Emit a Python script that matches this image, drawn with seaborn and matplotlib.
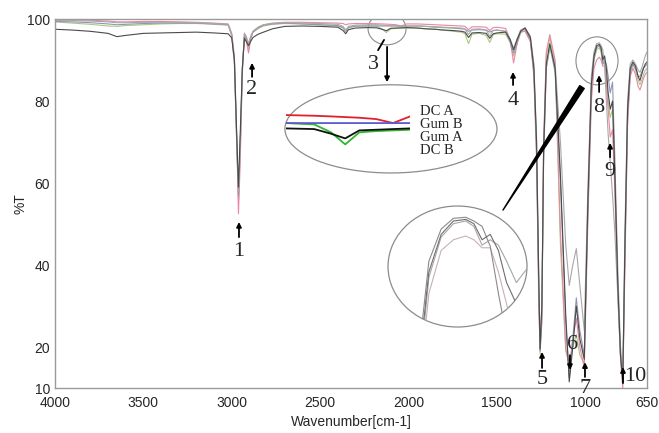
import pandas as pd
import seaborn as sns
import matplotlib.pyplot as plt
from matplotlib.patches import Ellipse

sns.set_style('white')
plt.rcParams['font.family'] = ['Liberation Sans', 'DejaVu Sans']

# FTIR spectra, %T at shared wavenumbers
wavenumber = [4000, 3900, 3800, 3700, 3650, 3600, 3500, 3400, 3300, 3200, 3100, 3020,
              3000, 2985, 2972, 2962, 2952, 2940, 2928, 2918, 2905, 2893, 2880, 2850, 2820, 2770, 2700,
              2600, 2500, 2400, 2370, 2355, 2340, 2300,
              2230, 2180, 2150, 2125, 2100, 2070, 2040, 2010,
              1950, 1900, 1850, 1800, 1750, 1700, 1680, 1660, 1640, 1600, 1560, 1540, 1520, 1500,
              1450, 1425, 1405, 1385, 1365,
              1340, 1310, 1290, 1275, 1262, 1255, 1245, 1235, 1220, 1200,
              1170, 1140, 1110, 1090, 1070, 1050, 1030, 1005,
              985, 965, 950, 935, 920, 910, 900, 890, 880, 870, 858, 845, 832, 815, 800, 787,
              775, 760, 745, 730, 715, 700, 690, 680, 670, 660, 650]

gum_a = [97.5, 97.3, 97.0, 96.5, 95.7, 96.0, 96.5, 96.6, 96.7, 96.8, 96.6, 96.4,
         95.4, 90, 72, 59, 72, 88, 95.3, 94.5, 93.5, 94.5, 95.5, 96.3, 96.8, 97.6, 98.2,
         98.3, 98.2, 98.0, 97.2, 96.4, 97.4, 97.8,
         97.9, 97.85, 97.5, 97.15, 97.75, 97.8, 97.85, 97.9,
         97.8, 97.6, 97.5, 97.3, 97.2, 97.0, 96.8, 95.5, 96.6, 96.7, 96.5, 95.3, 96.4, 96.6,
         96.8, 95.0, 92.5, 95.0, 97.0,
         97.8, 95.5, 88, 70, 35, 19.5, 30, 68, 89, 94,
         88, 62, 28, 11.5, 20, 30, 22, 17,
         55, 84, 91, 93.5, 93.8, 93, 90, 91, 88, 82, 78, 80, 62, 35, 18, 11.5,
         45, 78, 88, 89.5, 88.5, 86, 85, 86.5, 88, 89, 89.5]

gum_b = [99.4, 99.3, 99.1, 98.8, 98.6, 98.7, 98.9, 99.0, 99.0, 99.0, 98.8, 98.6,
         96.0, 90, 70, 57, 70, 88, 96.3, 95.5, 93.5, 95.5, 96.8, 97.8, 98.5, 98.8, 99.0,
         98.8, 98.6, 98.4, 97.8, 97.0, 97.9, 98.3,
         98.3, 98.3, 98.3, 98.3, 98.3, 98.3, 98.3, 98.3,
         98.3, 98.2, 98.0, 97.9, 97.8, 97.6, 97.5, 97.0, 97.3, 97.4, 97.3, 96.8, 97.2, 97.3,
         97.0, 94.5, 91.7, 94.5, 97.2,
         97.6, 95.0, 87, 68, 33, 19.0, 28, 66, 88, 93.5,
         87, 60, 26, 12.5, 22, 32, 24, 18,
         52, 83, 90.5, 93, 93.5, 92.5, 89, 90, 89, 86, 82, 84.6, 66, 38, 20, 12,
         42, 76, 87, 89, 88, 86, 86, 87, 88, 88.5, 89]

dc_a = [99.8, 99.8, 99.7, 99.5, 99.3, 99.3, 99.4, 99.4, 99.3, 99.2, 99.0, 98.8,
        96.5, 91, 72, 52.5, 65, 87, 96.6, 95, 91.7, 95, 97, 98, 98.6, 99, 99.2,
        99.2, 99.1, 99.0, 98.9, 98.6, 98.8, 98.9,
        98.9, 98.85, 98.8, 98.75, 98.7, 98.6, 98.3, 98.8,
        98.8, 98.7, 98.6, 98.5, 98.4, 98.3, 98.2, 97.4, 98.1, 98.1, 98.0, 97.2, 97.9, 98.0,
        97.7, 95.0, 89.3, 94.0, 97.0,
        97.0, 94.5, 86, 66, 30, 19.5, 26, 70, 92, 96.2,
        90, 48, 20, 15, 22, 27, 20, 15,
        50, 80, 88, 90, 90.7, 90, 88.5, 88.5, 84, 78, 71.2, 73, 58, 33, 17, 10,
        40, 74, 86, 88, 86.5, 83.5, 82.7, 84, 85.5, 86.5, 87]

dc_b = [99.3, 99.0, 98.7, 98.3, 98.2, 98.4, 98.6, 98.8, 98.9, 98.9, 98.7, 98.5,
        96, 90, 71, 56, 68, 88, 96.0, 95, 92.5, 95.5, 96.8, 97.7, 98.3, 98.7, 98.9,
        98.8, 98.6, 98.3, 98.0, 97.5, 97.9, 98.2,
        98.3, 98.2, 97.6, 96.7, 97.6, 97.7, 97.75, 97.8,
        97.8, 97.6, 97.5, 97.3, 97.0, 96.8, 96.4, 94.0, 96.3, 96.5, 96.0, 94.3, 96.2, 96.4,
        96.3, 94.3, 91.0, 94.0, 96.6,
        97.2, 94.8, 87, 67, 31, 18.2, 27, 69, 91, 95.5,
        89, 45, 19, 16, 20, 23, 18, 16,
        53, 82, 90, 92.5, 93, 92, 89, 89.5, 86, 80, 76, 78, 60, 34, 18, 11,
        43, 76, 87, 89, 87.5, 85, 84, 85, 86.5, 87.5, 88]

reference = [99.6, 99.6, 99.5, 99.3, 99.1, 99.1, 99.2, 99.2, 99.2, 99.1, 98.9, 98.7,
             96.2, 89, 70, 58, 69, 87, 96.4, 95.8, 94.0, 95.8, 97, 98, 98.6, 98.9, 99.1,
             99.0, 98.9, 98.7, 98.2, 97.0, 98.2, 98.5,
             98.6, 98.6, 98.5, 98.4, 98.4, 98.3, 98.2, 98.2,
             98.3, 98.2, 98.1, 98.0, 97.9, 97.8, 97.6, 96.2, 97.5, 97.6, 97.3, 95.8, 97.2, 97.3,
             97.0, 95.2, 92.8, 95.2, 97.3,
             97.9, 95.8, 89, 71, 36, 20.0, 31, 67, 88, 93.0,
             89, 70, 45, 35, 40, 44, 35, 24,
             58, 86, 92, 94, 94.2, 93.5, 92.5, 88.8, 80, 72, 65, 57, 48, 32, 18, 12.5,
             48, 80, 89, 90, 89, 87.5, 87, 88, 89.5, 91, 92]

series = {'DC B': dc_b, 'DC A': dc_a, 'Gum B': gum_b, 'Ref': reference, 'Gum A': gum_a}
df = pd.concat([pd.DataFrame({'wn': wavenumber, 'T': v, 'sample': k}) for k, v in series.items()],
               ignore_index=True)

main_colors = {'DC B': '#a9c982', 'DC A': '#e8879f', 'Gum B': '#9195b4', 'Ref': '#a8a8a8', 'Gum A': '#4a4a4a'}
zoom_colors = {'DC A': '#e0202a', 'Gum B': '#5a5ad0', 'Gum A': '#111111', 'DC B': '#2fb52f'}
arch_colors = {'DC A': '#c8b0b6', 'Gum B': '#a6a6a6', 'Ref': '#8a8a8a', 'Gum A': '#6e6e6e'}

fig = plt.figure(figsize=(6.59, 4.33), dpi=100)
ax = fig.add_axes([0.0835, 0.1039, 0.8983, 0.8522])
sns.lineplot(data=df, x='wn', y='T', hue='sample', palette=main_colors, estimator=None,
             lw=0.8, legend=False, ax=ax)
ax.set_xlim(4000, 650)
ax.set_ylim(10, 100)
ax.set_xticks([4000, 3500, 3000, 2500, 2000, 1500, 1000, 650])
ax.set_yticks([10, 20, 40, 60, 80, 100])
ax.tick_params(axis='x', length=0, labelsize=10, pad=5.5)
ax.tick_params(axis='y', length=0, labelsize=10, pad=3.5)
for s in ax.spines.values():
    s.set_color('#9a9a9a')
    s.set_linewidth(1)
ax.set_xlabel('Wavenumber[cm-1]', fontsize=10, labelpad=4)
ax.set_ylabel('%T', fontsize=10, labelpad=0)

# circles around peak 3 and peak 8, big ellipse for the zoomed legend part
gray_edge = '#8c8c8c'
ax.add_patch(Ellipse((2121, 97.6), 215, 7.8, fill=False, ec=gray_edge, lw=0.8))
ax.add_patch(Ellipse((933, 89.8), 238, 11.7, fill=False, ec=gray_edge, lw=0.8))
ax.add_patch(Ellipse((2099, 73.2), 1200, 21.5, fill=False, ec=gray_edge, lw=0.9))

# zoom 1: region around peak 3
ins1 = ax.inset_axes([0.3902, 0.6396, 0.2095, 0.1192])
sub = df[df['sample'].isin(zoom_colors)]
sns.lineplot(data=sub, x='wn', y='T', hue='sample', palette=zoom_colors, estimator=None,
             lw=1.3, legend=False, ax=ins1)
ins1.set_xlim(2230, 2010)
ins1.set_ylim(96.13, 99.43)
ins1.set_xticks([])
ins1.set_yticks([])
ins1.set_xlabel('')
ins1.set_ylabel('')
ins1.axis('off')
ins1.patch.set_alpha(0)

serif = ['Liberation Serif', 'DejaVu Serif']
for name, fy in zip(['DC A', 'Gum B', 'Gum A', 'DC B'], [0.750, 0.715, 0.679, 0.643]):
    ax.text(0.6166, fy, name, transform=ax.transAxes, family=serif, fontsize=10.5,
            ha='left', va='center')

# zoom 2: hump around peak 8, clipped to its circle
ins2 = ax.inset_axes([0.5625, 0.1653, 0.2348, 0.3279])
sub2 = df[df['sample'].isin(arch_colors)]
sns.lineplot(data=sub2, x='wn', y='T', hue='sample', palette=arch_colors, estimator=None,
             lw=0.8, legend=False, ax=ins2)
ins2.set_xlim(1015, 845)
ins2.set_ylim(73.7, 96.3)
ins2.set_xticks([])
ins2.set_yticks([])
ins2.set_xlabel('')
ins2.set_ylabel('')
ins2.axis('off')
ins2.patch.set_alpha(0)
ring = Ellipse((0.5, 0.5), 1, 1, transform=ins2.transAxes, fill=False, ec=gray_edge, lw=0.9)
ins2.add_patch(ring)
ring.set_clip_on(False)
for ln in ins2.lines:
    ln.set_clip_path(ring)

# pointer from circle 8 to zoom 2
ax.annotate('', xy=(1465, 53.4), xytext=(1018, 83.4),
            arrowprops=dict(arrowstyle='wedge,tail_width=0.38', fc='black', ec='black',
                            shrinkA=0, shrinkB=0, mutation_scale=10))

# peak labels: number, arrow tail, arrow head
peak_labels = [
    ('1', 2959, 43.2, 46.8, 50.5),
    ('2', 2885, 82.7, 85.9, 89.3),
    ('4', 1408, 80.2, 83.9, 87.1),
    ('5', 1244, 12.0, 14.9, 18.8),
    ('7', 1001, 10.0, 12.7, 16.3),
    ('8', 921, 78.5, 82.2, 86.3),
    ('9', 859, 62.7, 66.3, 69.8),
]
arrow_kw = dict(arrowstyle='-|>', color='black', lw=1.3, mutation_scale=7, shrinkA=0, shrinkB=0)
for lab, x, ty, y0, y1 in peak_labels:
    ax.annotate('', xy=(x, y1), xytext=(x, y0), arrowprops=arrow_kw)
    ax.text(x, ty, lab, family=serif, fontsize=16, ha='center', va='center', clip_on=False)

# 6 points down, 10 sits right of its arrow, 3 points to its circle
ax.annotate('', xy=(1086, 14.4), xytext=(1086, 18.0), arrowprops=arrow_kw)
ax.text(1074, 20.7, '6', family=serif, fontsize=16, ha='center', va='center')
ax.annotate('', xy=(786, 15.1), xytext=(786, 11.2), arrowprops=arrow_kw)
ax.text(718, 12.7, '10', family=serif, fontsize=16, ha='center', va='center')
ax.text(2200, 88.8, '3', family=serif, fontsize=16, ha='center', va='center')
ax.annotate('', xy=(2138, 94.9), xytext=(2172, 92.4),
            arrowprops=dict(arrowstyle='-', color='black', lw=1.3, shrinkA=0, shrinkB=0))
ax.annotate('', xy=(2121, 84.6), xytext=(2121, 93.2), arrowprops=arrow_kw)

plt.savefig('out.png', dpi=100)
